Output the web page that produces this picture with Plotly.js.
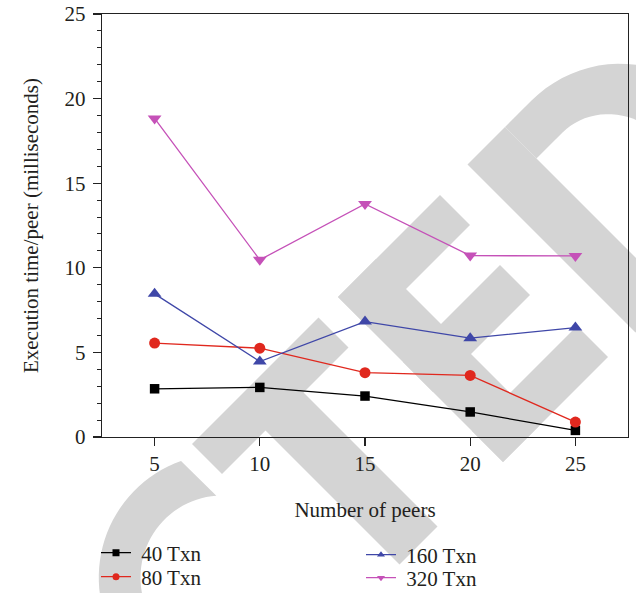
<!DOCTYPE html>
<html>
<head>
<meta charset="utf-8">
<script src="https://cdn.plot.ly/plotly-3.0.1.min.js"></script>
<style>html,body{margin:0;padding:0;background:#fff;}#chart{width:636px;height:593px;}</style>
</head>
<body>
<div id="chart"></div>
<script>
// ---- data ----
const peers = [5, 10, 15, 20, 25];
const txn40 = [2.85, 2.93, 2.42, 1.48, 0.39];
const txn80 = [5.55, 5.25, 3.80, 3.64, 0.88];
const txn160 = [8.46, 4.46, 6.82, 5.84, 6.47];
const txn320 = [18.83, 10.47, 13.77, 10.72, 10.70];
const seriesNames = ['40 Txn', '80 Txn', '160 Txn', '320 Txn'];
const xTicks = [5, 10, 15, 20, 25];

// ---- styles ----
const FONT = 'Liberation Serif, Times New Roman, serif';
const FS = 21;
const TXT = '#231f20';
const colors = ['#000000', '#e0281e', '#3f47a8', '#c551b8'];
const symbols = ['square', 'circle', 'triangle-up', 'triangle-down'];
const sizes = [9.5, 11, 12, 12];
const values = [txn40, txn80, txn160, txn320];
const legendIds = ['legend', 'legend2', 'legend3', 'legend4'];

const traces = [];
values.forEach((v, i) => {
  traces.push({
    x: peers, y: v, type: 'scatter', mode: 'lines+markers', name: seriesNames[i],
    line: {color: colors[i], width: 1.3},
    marker: {color: colors[i], symbol: symbols[i], size: sizes[i]},
    showlegend: false, hoverinfo: 'skip'
  });
});
values.forEach((v, i) => {
  traces.push({
    x: [null], y: [null], type: 'scatter', mode: 'lines+markers', name: '\u00a0' + seriesNames[i],
    line: {color: colors[i], width: 1.3},
    marker: {color: colors[i], symbol: symbols[i], size: 7},
    showlegend: true, legend: legendIds[i], hoverinfo: 'skip'
  });
});

// ---- watermark (decoration, letter-frame coords U,V rotated 45deg) ----
const L = 102, T = 14, W = 526, H = 423;
function P(U, V) { const x = (U + V) / 2, y = (V - U) / 2; return [(x - L) / W, (T + H - y) / H]; }
function pathOf(pts) {
  return 'M' + pts.map(p => { const q = P(p[0], p[1]); return q[0].toFixed(4) + ',' + q[1].toFixed(4); }).join('L') + 'Z';
}
function rect(u0, u1, v0, v1) { return pathOf([[u0, v0], [u1, v0], [u1, v1], [u0, v1]]); }
function ring(cu, cv, ro, ri, a0o, a1o, a0i, a1i, n) {
  const pts = [];
  for (let k = 0; k <= n; k++) { const a = (a0o + (a1o - a0o) * k / n) * Math.PI / 180; pts.push([cu + ro * Math.cos(a), cv - ro * Math.sin(a)]); }
  for (let k = 0; k <= n; k++) { const a = (a1i + (a0i - a1i) * k / n) * Math.PI / 180; pts.push([cu + ri * Math.cos(a), cv - ri * Math.sin(a)]); }
  return pathOf(pts);
}
function dBowl() {
  const pts = [[378, 632], [430, 632]];
  for (let k = 0; k <= 40; k++) { const a = (90 - 180 * k / 40) * Math.PI / 180; pts.push([430 + 175 * Math.cos(a), 800 - 168 * Math.sin(a)]); }
  pts.push([378, 968], [378, 905], [430, 905]);
  for (let k = 0; k <= 40; k++) { const a = (-90 + 180 * k / 40) * Math.PI / 180; pts.push([430 + 95 * Math.cos(a), 800 - 105 * Math.sin(a)]); }
  pts.push([430, 695], [378, 695]);
  return pathOf(pts);
}
const wmPaths = [
  ring(-355, 800, 175, 116, 64.6, 262, 49.3, 262, 60), // C
  rect(-252, 1, 636, 696),    // T bar
  rect(-165, -89, 690, 964),  // T stem
  rect(41, 117, 635, 965),    // E stem
  rect(41, 245, 635, 695),    // E top
  rect(41, 235, 765, 825),    // E mid
  rect(41, 251, 903, 965),    // E bottom
  rect(303, 378, 632, 968),   // D stem
  dBowl()                     // D bowl
];
const shapes = wmPaths.map(p => ({type: 'path', path: p, xref: 'paper', yref: 'paper', fillcolor: '#d4d4d4', line: {width: 0}, layer: 'below'}));

const axisCommon = {
  showline: true, linecolor: '#222', linewidth: 1.2, mirror: true,
  showgrid: false, zeroline: false, automargin: false,
  ticks: 'outside', ticklen: 8, tickwidth: 1.2, tickcolor: '#222',
  tickfont: {family: FONT, size: FS, color: TXT}
};

function legendAt(px, py) {
  return {x: (px - L) / W, y: (T + H - py) / H, xanchor: 'left', yanchor: 'middle',
          bgcolor: 'rgba(0,0,0,0)', borderwidth: 0, font: {family: FONT, size: FS, color: TXT},
          tracegroupgap: 0, itemwidth: 30};
}

const layout = {
  width: 636, height: 593,
  margin: {l: L, r: 636 - L - W, t: T, b: 593 - T - H, pad: 0, autoexpand: false},
  paper_bgcolor: '#ffffff', plot_bgcolor: 'rgba(0,0,0,0)',
  font: {family: FONT, size: FS, color: TXT},
  shapes: shapes,
  xaxis: Object.assign({}, axisCommon, {
    range: [2.5, 27.5], tickvals: xTicks, ticktext: xTicks.map(String),
    title: {text: 'Number of peers', font: {family: FONT, size: FS, color: TXT}, standoff: 26}
  }),
  yaxis: Object.assign({}, axisCommon, {
    range: [0, 25], dtick: 5, tick0: 0, ticklabelstandoff: 3,
    minor: {dtick: 1, ticks: 'outside', ticklen: 4, tickwidth: 1, tickcolor: '#222'},
    title: {text: 'Execution time/peer (milliseconds)', font: {family: FONT, size: FS, color: TXT}, standoff: 20}
  }),
  legend: legendAt(96, 553),
  legend2: legendAt(96, 577),
  legend3: legendAt(361, 555),
  legend4: legendAt(361, 578),
  showlegend: true
};

Plotly.newPlot('chart', traces, layout, {staticPlot: true, displayModeBar: false});
</script>
</body>
</html>
